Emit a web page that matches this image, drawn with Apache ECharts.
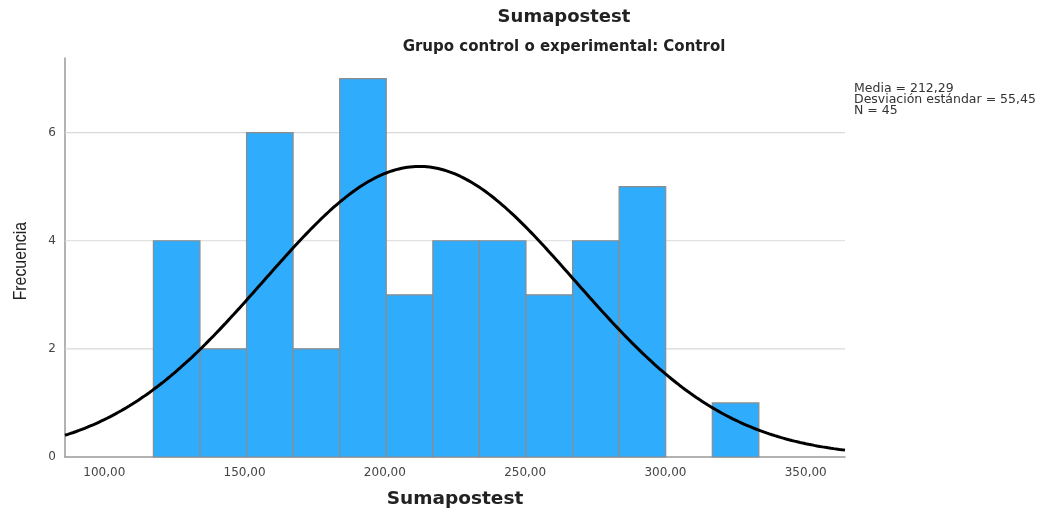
<!DOCTYPE html>
<html>
<head>
<meta charset="utf-8">
<script src="https://cdn.jsdelivr.net/npm/echarts@6/dist/echarts.min.js"></script>
<style>
  html, body { margin: 0; padding: 0; background: #fff; }
  #chart { width: 1045px; height: 514px; }
</style>
</head>
<body>
<div id="chart"></div>
<script>
// Histogram of Sumapostest, control group
const binStart = 117.5;     // lower edge of the first bin
const binWidth = 16.6;      // width of every bin
const counts = [4, 2, 6, 2, 7, 3, 4, 4, 3, 4, 5, 0, 1];
const xTicks = [100, 150, 200, 250, 300, 350];
const yTicks = [0, 2, 4, 6];
const mean = 212.29;
const sd = 55.45;
const n = 45;

const bins = counts.map((c, i) => [binStart + i * binWidth, binStart + (i + 1) * binWidth, c]);

// Normal curve scaled to the histogram (N * bin width * density)
const xMin = 86, xMax = 364;
const curve = [];
for (let x = xMin; x <= xMax; x += 1) {
  const z = (x - mean) / sd;
  const y = n * binWidth * Math.exp(-0.5 * z * z) / (sd * Math.sqrt(2 * Math.PI));
  curve.push([x, y]);
}

const fmt = v => v.toFixed(2).replace('.', ',');
const WIDE = '"DejaVu Sans", Verdana, sans-serif';

const chart = echarts.init(document.getElementById('chart'), null, { renderer: 'canvas' });
chart.setOption({
  animation: false,
  backgroundColor: '#fff',
  title: [
    { text: 'Sumapostest', left: 559, top: 3, textAlign: 'center',
      textStyle: { fontFamily: WIDE, fontSize: 18, fontWeight: 'bold', color: '#222' } },
    { text: 'Grupo control o experimental: Control', left: 559, top: 35, textAlign: 'center',
      textStyle: { fontFamily: WIDE, fontSize: 15, fontWeight: 'bold', color: '#222' } }
  ],
  graphic: [
    { type: 'text', left: 854, top: 82,
      style: { text: 'Media = ' + fmt(mean) + '\nDesviación estándar = ' + fmt(sd) + '\nN = ' + n,
        font: '12.5px ' + WIDE, fill: '#333', lineHeight: 11 } },
    { type: 'text', left: 12, top: 222, rotation: Math.PI / 2, scaleX: 0.88,
      style: { text: 'Frecuencia', font: '18px "Liberation Sans", Arial, sans-serif',
        fill: '#222' } }
  ],
  grid: { left: 65, right: 200, top: 58, bottom: 56 },
  xAxis: {
    type: 'value', min: xMin, max: xMax,
    name: 'Sumapostest', nameLocation: 'middle', nameGap: 33,
    nameTextStyle: { fontFamily: WIDE, fontSize: 18.5, fontWeight: 'bold', color: '#222' },
    axisLine: { show: true, lineStyle: { color: '#999', width: 1.5 } },
    axisTick: { show: false },
    splitLine: { show: false },
    axisLabel: {
      color: '#444', fontSize: 12, fontFamily: WIDE, margin: 10,
      customValues: xTicks, formatter: v => fmt(v)
    }
  },
  yAxis: {
    type: 'value', min: 0, max: 7.38,
    axisLine: { show: true, lineStyle: { color: '#999', width: 1.5 } },
    axisTick: { show: false },
    splitLine: { show: false },
    axisLabel: { color: '#444', fontSize: 12, fontFamily: WIDE, margin: 9,
      customValues: yTicks, formatter: v => String(v) }
  },
  series: [
    {
      // horizontal reference lines at the labelled frequencies
      type: 'custom',
      silent: true,
      z: 1,
      data: yTicks.filter(v => v > 0).map(v => [v]),
      renderItem: (params, api) => {
        const y = api.value(0);
        const p1 = api.coord([xMin, y]);
        const p2 = api.coord([xMax, y]);
        return { type: 'line', shape: { x1: p1[0], y1: p1[1], x2: p2[0], y2: p2[1] },
          style: { stroke: '#d9d9d9', lineWidth: 1.2 } };
      }
    },
    {
      type: 'custom',
      z: 2,
      data: bins,
      encode: { x: [0, 1], y: 2 },
      renderItem: (params, api) => {
        const h = api.value(2);
        if (h <= 0) return null;
        const p0 = api.coord([api.value(0), 0]);
        const p1 = api.coord([api.value(1), h]);
        return { type: 'rect',
          shape: { x: p0[0], y: p1[1], width: p1[0] - p0[0], height: p0[1] - p1[1] },
          style: { fill: '#30acfd', stroke: '#8c8c8c', lineWidth: 1.2 } };
      }
    },
    {
      type: 'line',
      z: 3,
      data: curve,
      showSymbol: false,
      smooth: false,
      lineStyle: { color: '#000', width: 3 }
    }
  ]
});
</script>
</body>
</html>
